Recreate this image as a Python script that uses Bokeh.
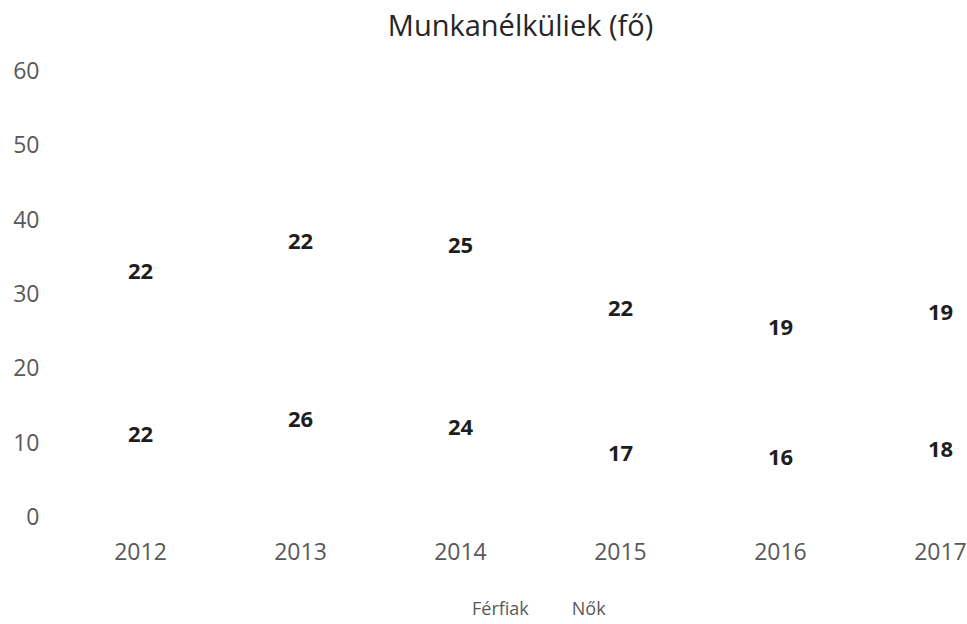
from bokeh.plotting import figure
from bokeh.layouts import column
from bokeh.models import ColumnDataSource, Legend, LegendItem, FixedTicker, Label
from bokeh.core.properties import value
from bokeh.embed import file_html
from bokeh.resources import INLINE

title_text = "Munkanélküliek (fő)"
years = ["2012", "2013", "2014", "2015", "2016", "2017"]
ferfiak = [22, 26, 24, 17, 16, 18]
nok = [22, 22, 25, 22, 19, 19]
y_ticks = [0, 10, 20, 30, 40, 50, 60]
series_names = ["Férfiak", "Nők"]

FONT = "Open Sans"
xs = list(range(len(years)))
src = ColumnDataSource(dict(
    x=xs,
    f_top=ferfiak,
    n_top=[a + b for a, b in zip(ferfiak, nok)],
    f_mid=[a / 2 for a in ferfiak],
    n_mid=[a + b / 2 for a, b in zip(ferfiak, nok)],
    f_lab=[str(v) for v in ferfiak],
    n_lab=[str(v) for v in nok],
))

# title strip
tt = figure(width=967, height=52, output_backend="svg", toolbar_location=None,
            x_axis_location=None, y_axis_location=None,
            min_border_left=0, min_border_right=0, min_border_top=0,
            min_border_bottom=0, x_range=(0, 1), y_range=(0, 52))
tt.outline_line_color = None
tt.xgrid.visible = False
tt.ygrid.visible = False
tt.add_layout(Label(x=0.5072, y=28, text=title_text, text_align="center",
                    text_baseline="middle", text_font=FONT,
                    text_font_size="29px", text_color="#262626"))

p = figure(width=967, height=532, output_backend="svg", toolbar_location=None,
           x_range=(-0.5, 5.169), y_range=(0, 61.5),
           min_border_left=60, min_border_right=0, min_border_top=7,
           min_border_bottom=68)
p.outline_line_color = None
p.xgrid.visible = False
p.ygrid.visible = False

r1 = p.vbar(x="x", bottom=0, top="f_top", width=0.55, source=src,
            fill_color="white", line_color=None)
r2 = p.vbar(x="x", bottom="f_top", top="n_top", width=0.55, source=src,
            fill_color="white", line_color=None)

for mid, lab in (("f_mid", "f_lab"), ("n_mid", "n_lab")):
    p.text(x="x", y=mid, text=lab, source=src, text_align="center",
           text_baseline="middle", text_font=value(FONT), text_font_size="22px",
           text_color="#1e1e1e", text_font_style="bold")

for ax in (p.xaxis[0], p.yaxis[0]):
    ax.axis_line_color = None
    ax.major_tick_line_color = None
    ax.minor_tick_line_color = None
    ax.major_tick_out = 0
    ax.major_label_text_font = FONT
    ax.major_label_text_font_size = "23px"
    ax.major_label_text_color = "#595959"

p.xaxis.ticker = FixedTicker(ticks=xs)
p.xaxis.major_label_overrides = {i: y for i, y in enumerate(years)}
p.xaxis.major_label_standoff = 26
p.yaxis.ticker = FixedTicker(ticks=y_ticks)
p.yaxis.major_label_standoff = 21

# legend strip below the chart
lg = figure(width=967, height=40, output_backend="svg", toolbar_location=None,
            x_axis_location=None, y_axis_location=None,
            min_border_left=0, min_border_right=0, min_border_top=0,
            min_border_bottom=0, x_range=(0, 1), y_range=(0, 1))
lg.outline_line_color = None
lg.xgrid.visible = False
lg.ygrid.visible = False
lsrc = ColumnDataSource(dict(x=[-5], top=[0]))
l1 = lg.vbar(x="x", top="top", width=0.1, source=lsrc,
             fill_color="white", line_color=None)
l2 = lg.vbar(x="x", top="top", width=0.1, source=lsrc,
             fill_color="white", line_color=None)
legend = Legend(items=[LegendItem(label=series_names[0], renderers=[l1]),
                       LegendItem(label=series_names[1], renderers=[l2])],
                orientation="horizontal", location=(393, 4),
                label_text_font=FONT, label_text_font_size="18px",
                label_text_color="#595959", border_line_color=None,
                background_fill_alpha=0, glyph_width=14, glyph_height=14,
                label_standoff=5, spacing=24, margin=0, padding=0)
lg.add_layout(legend)

open("out.html", "w").write(file_html(column(tt, p, lg, spacing=0), INLINE))
